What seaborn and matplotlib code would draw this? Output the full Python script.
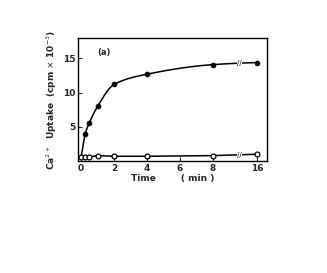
import numpy as np
import pandas as pd
import matplotlib
matplotlib.use("Agg")
import matplotlib.pyplot as plt
import seaborn as sns

# --- data ---
time_filled = [0.25, 0.5, 1, 2, 4, 8, 16]
uptake_filled = [4.0, 5.6, 8.0, 11.2, 12.7, 14.1, 14.4]
time_open = [0, 0.25, 0.5, 1, 2, 4, 8, 16]
uptake_open = [0.6, 0.6, 0.6, 0.8, 0.7, 0.7, 0.8, 1.0]
curve_start = (0, 0.6)

xtick_vals = [0, 2, 4, 6, 8, 16]
ytick_vals = [5, 10, 15]


def squeeze(t):
    # broken axis: past 8 min the scale is compressed
    t = np.asarray(t, dtype=float)
    return np.where(t <= 8, t, 8 + (t - 8) * 0.3375)


def pchip(x, y, xs):
    x = np.asarray(x, float); y = np.asarray(y, float)
    h = np.diff(x); d = np.diff(y) / h
    m = np.zeros_like(y)
    for k in range(1, len(x) - 1):
        if d[k - 1] * d[k] > 0:
            w1 = 2 * h[k] + h[k - 1]; w2 = h[k] + 2 * h[k - 1]
            m[k] = (w1 + w2) / (w1 / d[k - 1] + w2 / d[k])
    m[0] = d[0]; m[-1] = d[-1] * 0.5
    out = np.empty_like(xs)
    for i, v in enumerate(xs):
        k = min(np.searchsorted(x, v) - 1, len(x) - 2); k = max(k, 0)
        s = (v - x[k]) / h[k]
        h00 = 2 * s**3 - 3 * s**2 + 1; h10 = s**3 - 2 * s**2 + s
        h01 = -2 * s**3 + 3 * s**2; h11 = s**3 - s**2
        out[i] = h00 * y[k] + h10 * h[k] * m[k] + h01 * y[k + 1] + h11 * h[k] * m[k + 1]
    return out


sns.set_style("ticks")
plt.rcParams['font.family'] = ['DejaVu Sans']

fig = plt.figure(figsize=(3.27, 2.73), dpi=100)
ax = fig.add_axes([0.239, 0.41, 0.578, 0.451])

xf = np.concatenate([[curve_start[0]], squeeze(time_filled)])
yf = np.concatenate([[curve_start[1]], uptake_filled])
xs = np.linspace(xf[0], xf[-1], 300)
smooth = pd.DataFrame({"x": xs, "y": pchip(xf, yf, xs)})
sns.lineplot(data=smooth, x="x", y="y", color="black", lw=1.1, ax=ax)

df_open = pd.DataFrame({"x": squeeze(time_open), "y": uptake_open})
sns.lineplot(data=df_open, x="x", y="y", color="black", lw=1.1, ax=ax)
ax.plot(df_open["x"], df_open["y"], "o", mfc="white", mec="black", ms=3.5, mew=0.9)

df_filled = pd.DataFrame({"x": squeeze(time_filled), "y": uptake_filled})
sns.scatterplot(data=df_filled, x="x", y="y", color="black", s=14, edgecolor="black", ax=ax, zorder=5)

# axis break marks on the lines
xb = 9.6
for yb in (14.3, 0.9):
    ax.text(xb, yb, "//", fontsize=5, ha="center", va="center", color="black",
            bbox=dict(fc="white", ec="none", pad=0))

ax.set_xlim(-0.18, 11.3)
ax.set_ylim(0, 18)
ax.set_xticks(squeeze(xtick_vals))
ax.set_xticklabels([str(v) for v in xtick_vals], fontsize=6.5, fontweight="bold")
ax.set_yticks(ytick_vals)
ax.set_yticklabels([str(v) for v in ytick_vals], fontsize=6.5, fontweight="bold")
ax.tick_params(direction="in", length=3, width=0.8, pad=2)
for sp in ax.spines.values():
    sp.set_visible(True)
    sp.set_linewidth(1.0)
    sp.set_color("black")

ax.set_xlabel("Time        ( min )", fontsize=6.5, fontweight="bold", labelpad=1)
ax.set_ylabel(r"Ca$^{2+}$  Uptake  (cpm $\times$ 10$^{-3}$)", fontsize=6.5,
              fontweight="bold", labelpad=3)
ax.text(0.1, 0.86, "(a)", transform=ax.transAxes, fontsize=6, fontweight="bold")

fig.savefig("out.png", dpi=100)
